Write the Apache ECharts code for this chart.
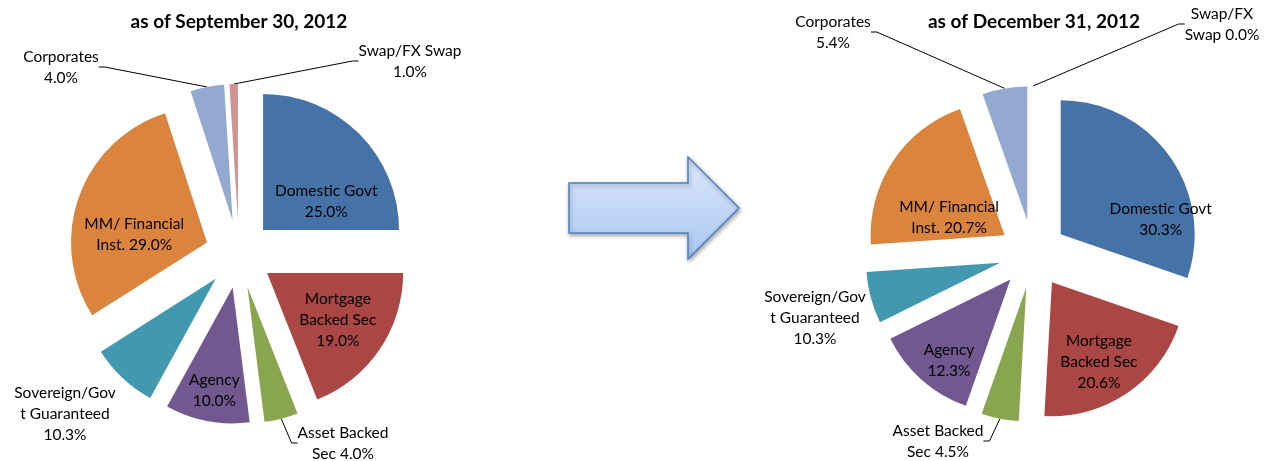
<!DOCTYPE html>
<html>
<head>
<meta charset="utf-8">
<script src="https://cdn.jsdelivr.net/npm/echarts@6/dist/echarts.min.js"></script>
<style>
html, body { margin: 0; padding: 0; background: #fff; }
#main { width: 1270px; height: 461px; }
</style>
</head>
<body>
<div id="main"></div>
<script>
// categories, clockwise from 12 o'clock
var categories = ['Domestic Govt', 'Mortgage Backed Sec', 'Asset Backed Sec', 'Agency',
    'Sovereign/Govt Guaranteed', 'MM/ Financial Inst.', 'Corporates', 'Swap/FX Swap'];

// slice sizes as drawn (%)
var sepShares = [25.0, 19.0, 4.0, 10.0, 8.0, 29.0, 4.0, 1.0];
var decShares = [30.3, 20.6, 4.5, 12.3, 6.2, 20.7, 5.4, 0.0];

// percentages as printed on the labels
var sepPrinted = ['25.0%', '19.0%', '4.0%', '10.0%', '10.3%', '29.0%', '4.0%', '1.0%'];
var decPrinted = ['30.3%', '20.6%', '4.5%', '12.3%', '10.3%', '20.7%', '5.4%', '0.0%'];

// wrapped label names
var sepNames = ['Domestic Govt\n', 'Mortgage\nBacked Sec\n', 'Asset Backed\nSec ', 'Agency\n',
    'Sovereign/Gov\nt Guaranteed\n', 'MM/ Financial\nInst. ', 'Corporates\n', 'Swap/FX Swap\n'];
var decNames = ['Domestic Govt\n', 'Mortgage\nBacked Sec\n', 'Asset Backed\nSec ', 'Agency\n',
    'Sovereign/Gov\nt Guaranteed\n', 'MM/ Financial\nInst. ', 'Corporates\n', 'Swap/FX\nSwap '];

var titles = ['as of September 30, 2012', 'as of December 31, 2012'];

var colors = ['#4572A7', '#AA4643', '#89A54E', '#71588F', '#4198AF', '#DB843D', '#93A9CF', '#D19392'];

// label anchors for the small slices (px)
var sepOutside = { 2: [343, 443], 4: [65, 414], 6: [61, 67], 7: [410, 61] };
var decOutside = { 2: [938, 441], 4: [815, 318], 6: [833, 32], 7: [1222, 24] };
// nudges for the inside labels (px)
var sepNudge = { 0: [13, 22], 1: [12, 7], 3: [-5, 33], 5: [-6, 16] };
var decNudge = { 0: [43, 26], 1: [8, 22], 3: [-15, 29], 5: [3, 21] };

var font = 'Lato, "Open Sans", sans-serif';
var explode = 34;
var cy = 254;

// one series per slice, each shifted out along its own bisector
function explodedPie(shares, names, printed, cx, radius, outside, nudge) {
    var total = shares.reduce(function (a, b) { return a + b; }, 0);
    var list = [];
    var cum = 0;
    shares.forEach(function (v, k) {
        var mid = (cum + v / 2) / total * Math.PI * 2;
        cum += v;
        list.push({
            type: 'pie',
            center: [cx + explode * Math.sin(mid), cy - explode * Math.cos(mid)],
            radius: [0, radius],
            startAngle: 90,
            clockwise: true,
            avoidLabelOverlap: false,
            silent: true,
            animation: false,
            itemStyle: { borderWidth: 0 },
            label: {
                color: '#000',
                fontFamily: font,
                fontSize: 15.5,
                lineHeight: 21,
                align: 'center'
            },
            labelLine: {
                length: 10,
                length2: 6,
                lineStyle: { color: '#000', width: 1 }
            },
            labelLayout: function (p) {
                if (p.dataIndex !== k) return {};
                var pos = outside[k];
                if (pos) return { x: pos[0], y: pos[1], align: 'center', verticalAlign: 'middle' };
                var n = nudge[k] || [0, 0];
                return { dx: n[0], dy: n[1] };
            },
            data: shares.map(function (val, i) {
                var on = i === k;
                return {
                    value: val,
                    name: categories[i],
                    itemStyle: { color: on ? colors[i] : 'rgba(0,0,0,0)' },
                    label: {
                        show: on,
                        position: outside[i] ? 'outside' : 'inside',
                        formatter: names[i] + printed[i]
                    },
                    labelLine: { show: on && i !== 4 }
                };
            })
        });
    });
    return list;
}

var chart = echarts.init(document.getElementById('main'));

var option = {
    backgroundColor: '#fff',
    graphic: [
        {
            type: 'text', x: 239, y: 22,
            style: { text: titles[0], align: 'center', verticalAlign: 'middle', font: 'bold 19px ' + font, fill: '#000' }
        },
        {
            type: 'text', x: 1034, y: 22,
            style: { text: titles[1], align: 'center', verticalAlign: 'middle', font: 'bold 19px ' + font, fill: '#000' }
        },
        {
            // arrow between the pies
            type: 'polygon',
            shape: { points: [[569, 183], [688, 183], [688, 157], [739, 208], [688, 259], [688, 233], [569, 233]] },
            style: {
                fill: new echarts.graphic.LinearGradient(0, 0, 0, 1, [
                    { offset: 0, color: '#dce8fb' },
                    { offset: 1, color: '#a9c7f2' }
                ]),
                stroke: '#4F81BD',
                lineWidth: 1.5,
                shadowBlur: 4,
                shadowOffsetX: 1,
                shadowOffsetY: 2,
                shadowColor: 'rgba(0,0,0,0.35)'
            }
        }
    ],
    series: explodedPie(sepShares, sepNames, sepPrinted, 239, 136, sepOutside, sepNudge)
        .concat(explodedPie(decShares, decNames, decPrinted, 1033, 134, decOutside, decNudge))
};

chart.setOption(option);
</script>
</body>
</html>
